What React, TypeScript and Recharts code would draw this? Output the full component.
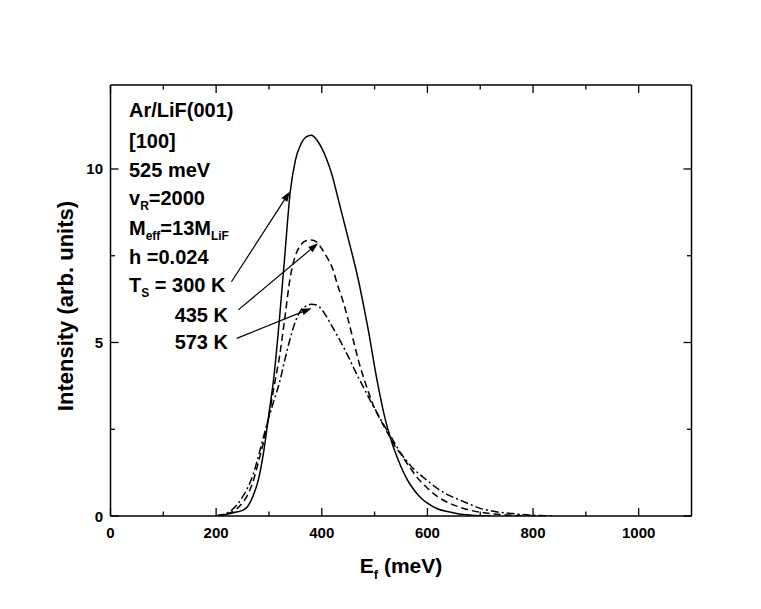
import React from "react";
import {
  LineChart,
  Line,
  XAxis,
  YAxis,
  ReferenceLine,
  Label,
  Customized,
} from "recharts";

const FONT = "'Liberation Sans', Arial, Helvetica, sans-serif";

// E_f (meV) sample points and intensities
const solidE = [
  200, 220, 240, 250, 260, 270, 280, 290, 300, 310, 320, 330, 340, 350, 360,
  370, 380, 390, 400, 410, 420, 430, 440, 450, 460, 470, 480, 490, 500, 510,
  520, 530, 540, 550, 560, 570, 580, 590, 600, 620, 640, 660, 680, 700, 720,
];
const solidI = [
  0, 0.05, 0.12, 0.16, 0.28, 0.58, 1.05, 1.85, 2.95, 4.1, 5.7, 7.5, 9.3, 10.25,
  10.7, 10.92, 10.97, 10.85, 10.6, 10.25, 9.8, 9.2, 8.6, 8.0, 7.4, 6.75, 6.0,
  5.2, 4.3, 3.5, 2.8, 2.25, 1.8, 1.42, 1.1, 0.85, 0.65, 0.49, 0.37, 0.2, 0.12,
  0.06, 0.03, 0.01, 0,
];

const dashedE = [
  200, 210, 220, 230, 240, 250, 260, 270, 280, 290, 300, 310, 320, 330, 340,
  350, 360, 370, 380, 390, 400, 410, 420, 430, 440, 450, 460, 470, 480, 490,
  500, 510, 520, 530, 540, 550, 560, 570, 580, 590, 600, 620, 640, 660, 680,
  700, 720, 740, 760, 780, 800,
];
const dashedI = [
  0, 0.02, 0.06, 0.12, 0.22, 0.38, 0.62, 1.0, 1.55, 2.15, 2.9, 3.75, 4.6, 5.7,
  6.85, 7.5, 7.8, 7.93, 7.95, 7.9, 7.7, 7.45, 7.15, 6.65, 6.2, 5.65, 5.05, 4.45,
  3.95, 3.5, 3.1, 2.8, 2.52, 2.25, 1.98, 1.78, 1.55, 1.33, 1.12, 0.95, 0.8,
  0.55, 0.38, 0.26, 0.17, 0.11, 0.07, 0.04, 0.02, 0.01, 0,
];

const dashDotE = [
  200, 210, 220, 230, 240, 250, 260, 270, 280, 290, 300, 310, 320, 330, 340,
  350, 360, 370, 380, 390, 400, 410, 420, 430, 440, 450, 460, 470, 480, 490,
  500, 510, 520, 530, 540, 550, 560, 570, 580, 590, 600, 620, 640, 660, 680,
  700, 720, 740, 760, 780, 800, 820, 840,
];
const dashDotI = [
  0.01, 0.03, 0.08, 0.18, 0.33, 0.55, 0.82, 1.2, 1.72, 2.3, 2.85, 3.35, 3.85,
  4.5, 5.1, 5.6, 5.92, 6.05, 6.1, 6.08, 5.95, 5.72, 5.45, 5.18, 4.9, 4.6, 4.28,
  3.97, 3.68, 3.38, 3.1, 2.83, 2.56, 2.32, 2.05, 1.8, 1.6, 1.42, 1.27, 1.14,
  1.02, 0.78, 0.6, 0.47, 0.34, 0.22, 0.15, 0.1, 0.07, 0.04, 0.02, 0.01, 0,
];

const xTicks = [0, 100, 200, 300, 400, 500, 600, 700, 800, 900, 1000];
const xLabels = [0, 200, 400, 600, 800, 1000];
const yTicks = [0, 2.5, 5, 7.5, 10];
const yLabels = [0, 5, 10];

// arrows: tail (near the label) -> tip (on the curve), in data units
const arrowTailE = [229, 242, 239];
const arrowTailI = [6.75, 5.94, 5.12];
const arrowTipE = [339.6, 393, 380.7];
const arrowTipI = [9.35, 7.86, 5.99];

const toRows = (xs: number[], ys: number[]) =>
  xs.map((x, i) => ({ x, y: ys[i] }));

const solidData = toRows(solidE, solidI);
const dashedData = toRows(dashedE, dashedI);
const dashDotData = toRows(dashDotE, dashDotI);

const tickStroke = { stroke: "#000", strokeWidth: 1.3 };
const axisLine = { stroke: "#000", strokeWidth: 1.5 };

const BottomTick = (props: any) => {
  const { x, y, payload } = props;
  const major = xLabels.includes(payload.value);
  return (
    <g>
      <line x1={x} y1={y} x2={x} y2={y - (major ? 8 : 4.5)} {...tickStroke} />
      {major && (
        <text
          x={x}
          y={y + 22}
          textAnchor="middle"
          fontSize={15}
          fontWeight="bold"
          fontFamily={FONT}
          fill="#000"
        >
          {payload.value}
        </text>
      )}
    </g>
  );
};

const TopTick = (props: any) => {
  const { x, y, payload } = props;
  const major = xLabels.includes(payload.value);
  return <line x1={x} y1={y} x2={x} y2={y + (major ? 8 : 4.5)} {...tickStroke} />;
};

const LeftTick = (props: any) => {
  const { x, y, payload } = props;
  const major = yLabels.includes(payload.value);
  return (
    <g>
      <line x1={x} y1={y} x2={x + (major ? 8 : 4.5)} y2={y} {...tickStroke} />
      {major && (
        <text
          x={x - 7.5}
          y={y + 5.5}
          textAnchor="end"
          fontSize={15}
          fontWeight="bold"
          fontFamily={FONT}
          fill="#000"
        >
          {payload.value}
        </text>
      )}
    </g>
  );
};

const RightTick = (props: any) => {
  const { x, y, payload } = props;
  const major = yLabels.includes(payload.value);
  return <line x1={x} y1={y} x2={x - (major ? 8 : 4.5)} y2={y} {...tickStroke} />;
};

const Arrow = (props: any) => {
  const { x1, y1, x2, y2 } = props;
  const dx = x2 - x1;
  const dy = y2 - y1;
  const len = Math.hypot(dx, dy) || 1;
  const ux = dx / len;
  const uy = dy / len;
  const hl = 10;
  const hw = 3.5;
  const bx = x2 - ux * hl;
  const by = y2 - uy * hl;
  const pts = `${x2},${y2} ${bx - uy * hw},${by + ux * hw} ${bx + uy * hw},${by - ux * hw}`;
  return (
    <g>
      <line x1={x1} y1={y1} x2={bx} y2={by} stroke="#000" strokeWidth={1.2} />
      <polygon points={pts} fill="#000" />
    </g>
  );
};

const XTitle = (props: any) => {
  const { x, y, width } = props.viewBox;
  return (
    <text
      x={x + width / 2}
      y={y + 57}
      textAnchor="middle"
      fontSize={21}
      fontWeight="bold"
      fontFamily={FONT}
      fill="#000"
    >
      E
      <tspan dy={6} fontSize={13}>
        f
      </tspan>
      <tspan dy={-6}> (meV)</tspan>
    </text>
  );
};

const YTitle = (props: any) => {
  const { x, y, height } = props.viewBox;
  const cx = x + 57;
  const cy = y + height / 2 + 5.5;
  return (
    <text
      x={cx}
      y={cy}
      transform={`rotate(-90 ${cx} ${cy})`}
      textAnchor="middle"
      dominantBaseline="central"
      fontSize={22}
      fontWeight="bold"
      fontFamily={FONT}
      fill="#000"
    >
      Intensity (arb. units)
    </text>
  );
};

const Annotations = () => {
  const t = {
    fontSize: 20,
    fontWeight: "bold" as const,
    fontFamily: FONT,
    fill: "#000",
  };
  const sub = { fontSize: 12 };
  return (
    <g>
      <text x={121} y={108.5} {...t}>Ar/LiF(001)</text>
      <text x={121} y={139.5} {...t}>[100]</text>
      <text x={121} y={168.5} {...t}>525 meV</text>
      <text x={121} y={196.5} {...t}>
        v<tspan dy={5} {...sub}>R</tspan>
        <tspan dy={-5}>=2000</tspan>
      </text>
      <text x={121} y={226.5} {...t}>
        M<tspan dy={5} {...sub}>eff</tspan>
        <tspan dy={-5}>=13M</tspan>
        <tspan dy={5} {...sub}>LiF</tspan>
      </text>
      <text x={121} y={255.5} {...t}>h =0.024</text>
      <text x={121} y={283.5} {...t}>
        T<tspan dy={5} {...sub}>S</tspan>
        <tspan dy={-5}> = 300 K</tspan>
      </text>
      <text x={220} y={313.5} textAnchor="end" {...t}>435 K</text>
      <text x={220} y={340.5} textAnchor="end" {...t}>573 K</text>
    </g>
  );
};

export default function App() {
  return (
    <LineChart
      width={745}
      height={593}
      margin={{ top: 76, right: 60.5, bottom: 0, left: 0 }}
      style={{ fontFamily: FONT, background: "#fff" }}
    >
      <XAxis
        dataKey="x"
        type="number"
        domain={[0, 1100]}
        ticks={xTicks}
        interval={0}
        allowDataOverflow
        height={85}
        tickSize={0}
        tickMargin={0}
        tickLine={false}
        axisLine={axisLine}
        tick={<BottomTick />}
      >
        <Label content={<XTitle />} />
      </XAxis>
      <XAxis
        xAxisId="top"
        orientation="top"
        dataKey="x"
        type="number"
        domain={[0, 1100]}
        ticks={xTicks}
        interval={0}
        allowDataOverflow
        height={1}
        tickSize={0}
        tickMargin={0}
        tickLine={false}
        axisLine={axisLine}
        tick={<TopTick />}
      />
      <YAxis
        type="number"
        domain={[0, 12.42]}
        ticks={yTicks}
        interval={0}
        allowDataOverflow
        width={102.5}
        tickSize={0}
        tickMargin={0}
        tickLine={false}
        axisLine={axisLine}
        tick={<LeftTick />}
      >
        <Label content={<YTitle />} />
      </YAxis>
      <YAxis
        yAxisId="right"
        orientation="right"
        type="number"
        domain={[0, 12.42]}
        ticks={yTicks}
        interval={0}
        allowDataOverflow
        width={1}
        tickSize={0}
        tickMargin={0}
        tickLine={false}
        axisLine={axisLine}
        tick={<RightTick />}
      />

      <Line
        data={solidData}
        dataKey="y"
        yAxisId="right"
        type="monotone"
        stroke="#000"
        strokeWidth={1.5}
        dot={false}
        activeDot={false}
        isAnimationActive={false}
      />
      <Line
        data={dashedData}
        dataKey="y"
        xAxisId="top"
        type="monotone"
        stroke="#000"
        strokeWidth={1.5}
        strokeDasharray="7 4"
        dot={false}
        activeDot={false}
        isAnimationActive={false}
      />
      <Line
        data={dashDotData}
        dataKey="y"
        type="monotone"
        stroke="#000"
        strokeWidth={1.5}
        strokeDasharray="8 3 2 3"
        dot={false}
        activeDot={false}
        isAnimationActive={false}
      />

      {arrowTailE.map((e, i) => (
        <ReferenceLine
          key={i}
          segment={[
            { x: e, y: arrowTailI[i] },
            { x: arrowTipE[i], y: arrowTipI[i] },
          ]}
          shape={Arrow}
        />
      ))}

      <Customized component={Annotations} />
    </LineChart>
  );
}
